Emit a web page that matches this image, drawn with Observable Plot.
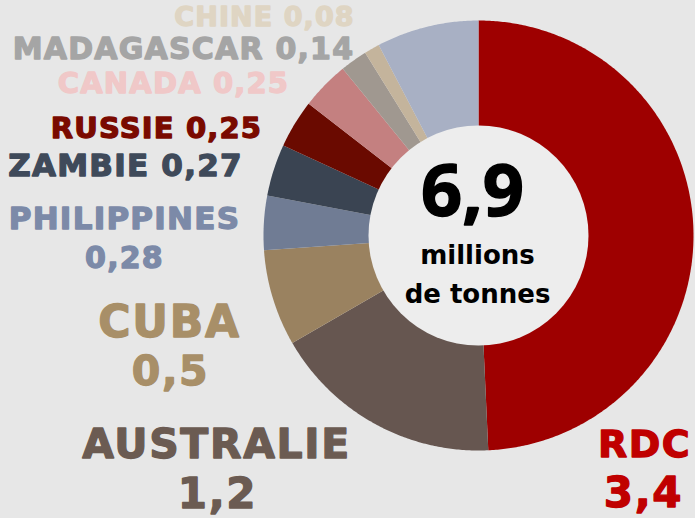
<!DOCTYPE html>
<html><head><meta charset="utf-8">
<script src="https://cdn.jsdelivr.net/npm/d3@7"></script>
<script src="https://cdn.jsdelivr.net/npm/@observablehq/plot@0.6"></script>
<style>
html,body{margin:0;padding:0;background:#e7e7e7;}
#chart{width:695px;height:518px;}
</style></head>
<body><div id="chart"></div>
<script>
// ---- data ----
const countries = ["RDC","Australie","Cuba","Philippines","Zambie","Russie","Canada","Madagascar","Chine","Autres"];
const values = [3.4, 1.2, 0.5, 0.28, 0.27, 0.25, 0.25, 0.14, 0.08, 0.53];
const labelNames = ["RDC","AUSTRALIE","CUBA","PHILIPPINES","ZAMBIE","RUSSIE","CANADA","MADAGASCAR","CHINE",""];
const labelValues = ["3,4","1,2","0,5","0,28","0,27","0,25","0,25","0,14","0,08",""];
const totalLabel = "6,9";
const unitLines = ["millions","de tonnes"];

// ---- styles / layout ----
const sliceColors = ["#9e0000","#665650","#9a8260","#707c94","#3a4452","#6a0a00","#c48080","#a09890","#c4b49c","#a8b0c4"];
const labelColors = ["#c00000","#6b5b52","#a88f68","#7c8aa8","#3f4a5a","#7a0a00","#f0c8c8","#a5a5a5","#dfd5c3",null];
const W = 695, H = 518;
const cx = 478, cy = 235, R = 215, r0 = 110;
// label layout: [index, which ("both"|"name"|"value"), x center, cap top y, font size]
const labelLayout = [
  [8,"both",264,6,27],
  [7,"both",183,37,30],
  [6,"both",173,72,29],
  [5,"both",156,117,29],
  [4,"both",125,153,31],
  [3,"name",124,206,31],
  [3,"value",124,246,30],
  [2,"name",169,305,44],
  [2,"value",170,355,41],
  [1,"name",216,428,41],
  [1,"value",217,478,42],
  [0,"name",644,430,38],
  [0,"value",643,477,42]
];

const arcs = d3.pie().sort(null).value(d => d)(values);
const pts = [];
arcs.forEach((a, i) => {
  pts.push({name: countries[i], x: cx, y: cy});
  const n = Math.max(2, Math.ceil((a.endAngle - a.startAngle) / (Math.PI / 360)));
  for (let k = 0; k <= n; k++) {
    const t = a.startAngle + (a.endAngle - a.startAngle) * k / n;
    pts.push({name: countries[i], x: cx + R * Math.sin(t), y: cy - R * Math.cos(t)});
  }
});

const font = "'DejaVu Sans', sans-serif";
const textMarks = labelLayout.map(([i, which, x, y, size]) => {
  const txt = which === "both" ? labelNames[i] + " " + labelValues[i] : which === "name" ? labelNames[i] : labelValues[i];
  return Plot.text([txt], {x: () => x, y: () => y, text: d => d, fill: labelColors[i], fontSize: size,
    stroke: labelColors[i], strokeWidth: 1.3, strokeLinejoin: "round",
    fontWeight: 900, fontFamily: font, textAnchor: "middle", lineAnchor: "top"});
});

const chart = Plot.plot({
  width: W, height: H, margin: 0,
  style: {background: "#e7e7e7", overflow: "visible"},
  x: {domain: [0, W], range: [0, W], axis: null},
  y: {domain: [0, H], range: [0, H], axis: null},
  color: {domain: countries, range: sliceColors},
  marks: [
    Plot.line(pts, {x: "x", y: "y", z: "name", fill: "name", stroke: "none"}),
    Plot.dot([0], {x: () => cx, y: () => cy, r: r0, fill: "#ededed", stroke: "none"}),
    Plot.text([totalLabel], {x: () => 472, y: () => 164, text: d => d, fontSize: 72, fontWeight: 700,
      fontFamily: "'Open Sans', sans-serif", fill: "#000", stroke: "#000", strokeWidth: 1.5, textAnchor: "middle", lineAnchor: "top"}),
    Plot.text([unitLines[0]], {x: () => 477, y: () => 245.5, text: d => d, fontSize: 26, fontWeight: 700,
      fontFamily: font, fill: "#000", textAnchor: "middle", lineAnchor: "top"}),
    Plot.text([unitLines[1]], {x: () => 477, y: () => 284.5, text: d => d, fontSize: 26, fontWeight: 700,
      fontFamily: font, fill: "#000", textAnchor: "middle", lineAnchor: "top"}),
    ...textMarks
  ]
});
// widen the heavy labels slightly (Arial Black-like spacing)
const groups = chart.querySelectorAll('g[aria-label="text"]');
groups.forEach((g, k) => { if (k >= 3) g.setAttribute("letter-spacing", "0.04em"); });
document.getElementById("chart").appendChild(chart);
</script></body></html>
